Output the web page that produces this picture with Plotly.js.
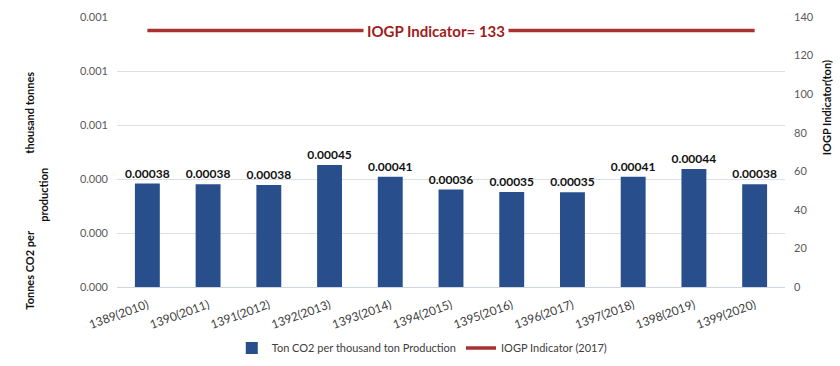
<!DOCTYPE html>
<html><head><meta charset="utf-8">
<script src="https://cdn.plot.ly/plotly-3.0.1.min.js"></script>
<style>html,body{margin:0;padding:0;background:#fff}#chart{width:840px;height:366px}</style>
</head><body><div id="chart"></div>
<script>
const categories = ["1389(2010)","1390(2011)","1391(2012)","1392(2013)","1393(2014)","1394(2015)","1395(2016)","1396(2017)","1397(2018)","1398(2019)","1399(2020)"];
const co2PerProduction = [0.000383,0.000381,0.000378,0.000452,0.000408,0.000361,0.000352,0.000351,0.000408,0.000437,0.000381];
const barLabels = ["0.00038","0.00038","0.00038","0.00045","0.00041","0.00036","0.00035","0.00035","0.00041","0.00044","0.00038"];
const iogpIndicator = [133,133,133,133,133,133,133,133,133,133,133];
const leftTickVals = [0,0.0002,0.0004,0.0006,0.0008,0.001];
const leftTickText = ["0.000","0.000","0.000","0.001","0.001","0.001"];
const rightTickVals = [0,20,40,60,80,100,120,140];

const FONT = "Lato, 'Open Sans', sans-serif";
const traces = [
  {type:"bar", x:categories, y:co2PerProduction, name:"Ton CO2 per thousand ton Production",
   marker:{color:"#284f8c"}, text:barLabels, textposition:"outside", cliponaxis:false, constraintext:"none",
   textfont:{family:FONT, size:12, color:"#111", weight:"bold"}, hoverinfo:"none"},
  {type:"scatter", mode:"lines", x:categories, y:iogpIndicator, yaxis:"y2", name:"IOGP Indicator (2017)",
   line:{color:"#a83232", width:3.5}, hoverinfo:"none"}
];
const layout = {
  width:840, height:366, margin:{l:117, r:55, t:17, b:79},
  paper_bgcolor:"#fff", plot_bgcolor:"#fff",
  font:{family:FONT, size:11, color:"#595959"},
  bargap:0.59, showlegend:true,
  legend:{orientation:"h", x:0.457, xanchor:"center", yref:"container", y:0.049, yanchor:"middle", font:{size:11, color:"#404040"}, traceorder:"normal"},
  xaxis:{type:"category", tickangle:-20, showgrid:false, ticks:"", showline:false, zeroline:false,
    tickfont:{size:12, color:"#404040"}, ticklabelstandoff:8, automargin:false},
  yaxis:{range:[0,0.001], tickvals:leftTickVals, ticktext:leftTickText, showgrid:true, gridcolor:"#dbe0e8",
    gridwidth:1, zeroline:true, zerolinecolor:"#cfd6e0", showline:false, ticks:"", ticklabelstandoff:8, automargin:false},
  yaxis2:{overlaying:"y", side:"right", range:[0,140], tickvals:rightTickVals, showgrid:false, zeroline:false,
    showline:false, ticks:"", ticklabelstandoff:8, automargin:false},
  annotations:[
    {xref:"x", yref:"y2", x:4.75, y:133, text:"<b>IOGP Indicator= 133</b>", showarrow:false,
     bgcolor:"#fff", font:{family:FONT, size:15, color:"#a01c1c"}, borderpad:3},
    {xref:"paper", yref:"paper", x:-0.145, y:0.8037, text:"<b>thousand tonnes</b>", textangle:-90, showarrow:false, font:{size:11, color:"#111"}},
    {xref:"paper", yref:"paper", x:-0.124, y:0.3407, text:"<b>production</b>", textangle:-90, showarrow:false, font:{size:11, color:"#111"}},
    {xref:"paper", yref:"paper", x:-0.145, y:-0.0926, text:"<b>Tonnes CO2 per</b>", textangle:-90, showarrow:false, font:{size:11, color:"#111"}},
    {xref:"paper", yref:"paper", x:1.076, y:0.663, text:"<b>IOGP Indicator(ton)</b>", textangle:-90, showarrow:false, font:{size:11, color:"#111"}}
  ]
};
Plotly.newPlot("chart", traces, layout, {staticPlot:true, displayModeBar:false});
</script></body></html>
